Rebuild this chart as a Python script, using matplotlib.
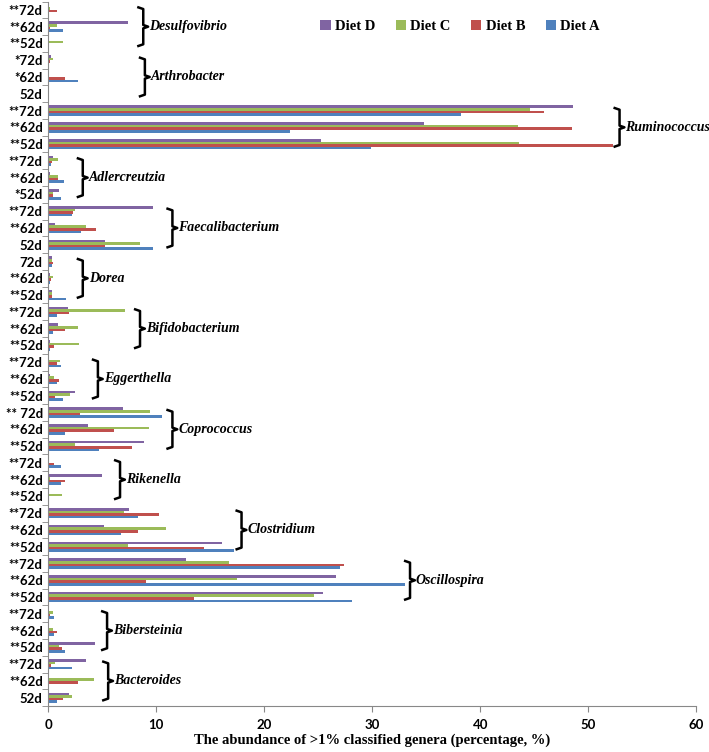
import numpy as np
import matplotlib
matplotlib.use("Agg")
import matplotlib.pyplot as plt

# genera, top to bottom as in the chart
genera = ["Desulfovibrio", "Arthrobacter", "Ruminococcus", "Adlercreutzia",
          "Faecalibacterium", "Dorea", "Bifidobacterium", "Eggerthella",
          "Coprococcus", "Rikenella", "Clostridium", "Oscillospira",
          "Bibersteinia", "Bacteroides"]

# row labels, top to bottom (72d, 62d, 52d per genus)
row_labels = ["**72d", "**62d", "**52d",
              "*72d", "*62d", "52d",
              "**72d", "**62d", "**52d",
              "**72d", "**62d", "*52d",
              "**72d", "**62d", "52d",
              "72d", "**62d", "**52d",
              "**72d", "**62d", "**52d",
              "**72d", "**62d", "**52d",
              "** 72d", "**62d", "**52d",
              "**72d", "**62d", "**52d",
              "**72d", "**62d", "**52d",
              "**72d", "**62d", "**52d",
              "**72d", "**62d", "**52d",
              "**72d", "**62d", "52d"]

# abundance (%), top to bottom, same order as row_labels
diet_d = [0.1, 7.4, 0.0,
          0.3, 0.0, 0.05,
          48.6, 34.8, 25.3,
          0.47, 0.15, 1.02,
          9.66, 0.62, 5.25,
          0.35, 0.15, 0.35,
          1.85, 0.93, 0.15,
          0.1, 0.15, 2.47,
          6.9, 3.68, 8.86,
          0.1, 5.0, 0.0,
          7.47, 5.16, 16.05,
          12.72, 26.6, 25.4,
          0.0, 0.0, 4.33,
          3.49, 0.0, 1.92]
diet_c = [0.2, 0.84, 1.4,
          0.4, 0.0, 0.05,
          44.6, 43.5, 43.6,
          0.87, 0.87, 0.47,
          2.47, 3.49, 8.5,
          0.35, 0.45, 0.35,
          7.1, 2.78, 2.84,
          1.08, 0.53, 2.0,
          9.4, 9.35, 2.47,
          0.0, 0.15, 1.3,
          7.0, 10.87, 7.35,
          16.76, 17.5, 24.6,
          0.47, 0.4, 1.02,
          0.62, 4.23, 2.22]
diet_b = [0.78, 0.15, 0.0,
          0.15, 1.55, 0.05,
          45.9, 48.5, 52.3,
          0.37, 0.87, 0.47,
          2.3, 4.4, 5.25,
          0.45, 0.25, 0.35,
          1.9, 1.55, 0.53,
          0.77, 1.02, 0.62,
          2.93, 6.1, 7.78,
          0.53, 1.6, 0.0,
          10.28, 8.27, 14.42,
          27.35, 9.1, 13.46,
          0.15, 0.77, 1.24,
          0.3, 2.78, 1.4]
diet_a = [0.0, 1.4, 0.0,
          0.0, 2.8, 0.05,
          38.2, 22.4, 29.9,
          0.22, 1.5, 1.15,
          2.16, 3.0, 9.66,
          0.35, 0.15, 1.64,
          0.77, 0.47, 0.15,
          1.18, 0.84, 1.4,
          10.56, 1.55, 4.73,
          1.15, 1.18, 0.0,
          8.27, 6.76, 17.2,
          26.98, 33.0, 28.15,
          0.53, 0.53, 1.55,
          2.22, 0.0, 0.84]

# where each brace sits on the x axis (top to bottom)
brace_x = [8.8, 8.95, 52.9, 3.2, 11.5, 3.2, 8.5, 4.6, 11.5, 6.65, 17.9, 33.5, 5.45, 5.55]

colors = {"Diet A": "#4F81BD", "Diet B": "#C0504D", "Diet C": "#9BBB59", "Diet D": "#8064A2"}

fig = plt.figure(figsize=(7.09, 7.52), dpi=100)
ax = fig.add_axes([0.068, 0.061, 0.914, 0.937])

n = len(row_labels)
y = np.arange(n)[::-1]  # top row gets highest y
h = 0.155
series = [("Diet A", diet_a, -1.5), ("Diet B", diet_b, -0.5),
          ("Diet C", diet_c, 0.5), ("Diet D", diet_d, 1.5)]
for name, vals, off in series:
    ax.barh(y + off * h, vals, height=h, color=colors[name], label=name, linewidth=0)

ax.set_xlim(0, 60)
ax.set_ylim(-0.5, n - 0.5)
ax.set_xticks(np.arange(0, 61, 10))
ax.set_yticks(y)
ax.set_yticklabels(row_labels, fontfamily="Lato", fontweight="bold", fontsize=9.5)
ax.set_yticks(np.arange(-0.5, n, 1), minor=True)
ax.tick_params(axis="y", which="major", length=0, pad=4)
ax.tick_params(axis="y", which="minor", length=4, color="#888888")
ax.tick_params(axis="x", length=4, color="#888888", pad=5)
for lab in ax.get_xticklabels():
    lab.set_fontfamily("Lato")
    lab.set_fontweight("bold")
    lab.set_fontsize(9.5)

for s in ["top", "right"]:
    ax.spines[s].set_visible(False)
for s in ["left", "bottom"]:
    ax.spines[s].set_color("#888888")
    ax.spines[s].set_linewidth(0.8)

ax.set_xlabel("The abundance of >1% classified genera (percentage, %)",
              fontfamily="Liberation Serif", fontweight="bold", fontsize=10.5, labelpad=2)

# braces with genus names
for k, g in enumerate(genera):
    mid = n - 1 - (3 * k + 1)
    top, bot = mid + 1.15, mid - 1.15
    bx = brace_x[k]
    xs = [bx - 0.45, bx, bx, bx + 0.45, bx, bx, bx - 0.45]
    ys = [top, top - 0.1, mid + 0.1, mid, mid - 0.1, bot + 0.1, bot]
    ax.plot(xs, ys, color="black", lw=1.8, solid_joinstyle="round", clip_on=False)
    ax.text(bx + 0.55, mid, g, fontfamily="Liberation Serif", fontweight="bold",
            fontstyle="italic", fontsize=10, va="center", ha="left")

handles, labels = ax.get_legend_handles_labels()
fig.legend(handles[::-1], labels[::-1], loc="center", bbox_to_anchor=(0.649, 0.965),
           ncol=4, frameon=False, handlelength=0.7, handleheight=0.7,
           handletextpad=0.3, columnspacing=1.4,
           prop={"family": "Liberation Serif", "weight": "bold", "size": 10.5})

fig.savefig("out.png", dpi=100)
